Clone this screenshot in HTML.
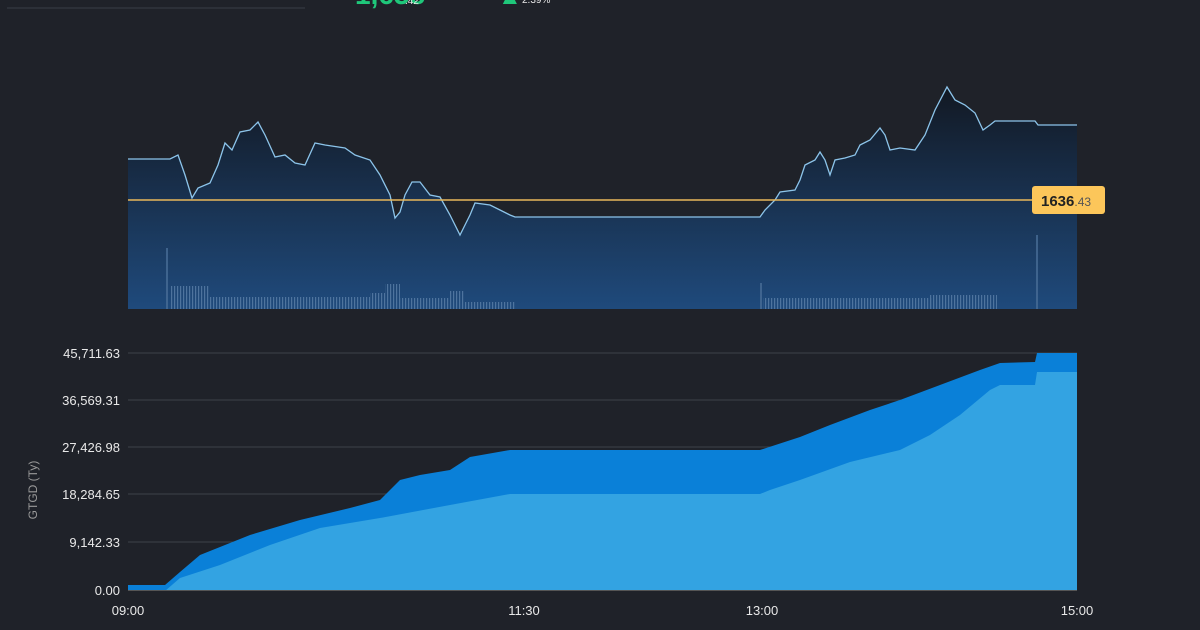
<!DOCTYPE html>
<html><head><meta charset="utf-8"><style>
html,body{margin:0;padding:0;background:#1f2229;width:1200px;height:630px;overflow:hidden}
svg{display:block}
text{font-family:"Liberation Sans",sans-serif}
</style></head><body>
<svg width="1200" height="630" viewBox="0 0 1200 630" xmlns="http://www.w3.org/2000/svg">
<defs>
<linearGradient id="g1" gradientUnits="userSpaceOnUse" x1="0" y1="85" x2="0" y2="309">
<stop offset="0" stop-color="#121822"/><stop offset="1" stop-color="#1f4a7c"/>
</linearGradient>
<pattern id="vp" width="3" height="10" patternUnits="userSpaceOnUse">
<rect x="0" y="0" width="1.2" height="10" fill="#5a7fa8"/>
</pattern>
</defs>
<line x1="7" y1="8" x2="305" y2="8" stroke="#3a3e46" stroke-width="1"/>
<text x="355" y="4" fill="#1fc77a" font-size="28" font-weight="bold">1,638</text>
<text x="405" y="4" fill="#e8e8e8" font-size="10">.42</text>
<text x="498" y="4" fill="#1fc77a" font-size="24" font-weight="bold">▲</text>
<text x="522" y="3" fill="#e8e8e8" font-size="10">2.39%</text>
<path fill="url(#g1)" d="M128,159 L170,159 178,155 185,175 192,198 198,188 210,183 218,165 225,143 232,150 240,132 250,130 258,122 265,135 275,157 285,155 295,163 305,165 315,143 325,145 345,148 355,155 370,160 380,175 390,195 395,218 400,212 405,195 412,182 420,182 430,195 440,197 450,215 460,235 465,225 470,215 475,203 490,205 500,210 510,215 515,217 760,217 765,210 775,200 780,192 795,190 800,180 805,165 815,160 820,152 825,160 830,175 835,160 845,158 855,155 860,145 870,140 880,128 885,135 890,150 900,148 915,150 925,135 935,110 947,87 955,100 965,105 975,113 983,130 990,125 995,121 1035,121 1038,125 1077,125 L1077,309 L128,309 Z"/>
<path fill="none" stroke="#8cc4ea" stroke-width="1.3" d="M128,159 L170,159 178,155 185,175 192,198 198,188 210,183 218,165 225,143 232,150 240,132 250,130 258,122 265,135 275,157 285,155 295,163 305,165 315,143 325,145 345,148 355,155 370,160 380,175 390,195 395,218 400,212 405,195 412,182 420,182 430,195 440,197 450,215 460,235 465,225 470,215 475,203 490,205 500,210 510,215 515,217 760,217 765,210 775,200 780,192 795,190 800,180 805,165 815,160 820,152 825,160 830,175 835,160 845,158 855,155 860,145 870,140 880,128 885,135 890,150 900,148 915,150 925,135 935,110 947,87 955,100 965,105 975,113 983,130 990,125 995,121 1035,121 1038,125 1077,125"/>
<g stroke="#4a6f98" stroke-width="1.5">
<line x1="167" y1="309" x2="167" y2="248"/>
<line x1="1037" y1="309" x2="1037" y2="235"/>
<line x1="761" y1="309" x2="761" y2="283"/>
</g>
<g fill="url(#vp)" opacity="0.8">
<rect x="170" y="286" width="40" height="23"/>
<rect x="210" y="297" width="160" height="12"/>
<rect x="370" y="293" width="15" height="16"/>
<rect x="385" y="284" width="15" height="25"/>
<rect x="400" y="298" width="50" height="11"/>
<rect x="450" y="291" width="15" height="18"/>
<rect x="465" y="302" width="50" height="7"/>
<rect x="763" y="298" width="170" height="11"/>
<rect x="930" y="295" width="67" height="14"/>
</g>
<line x1="128" y1="200" x2="1032" y2="200" stroke="#e8b85a" stroke-width="1.5"/>
<rect x="1032" y="186" width="73" height="28" rx="3" fill="#fcc65a"/>
<text x="1041" y="206" font-size="15" font-weight="bold" fill="#222">1636<tspan font-size="12" font-weight="normal" fill="#555">.43</tspan></text>
<g stroke="#3d4149" stroke-width="1">
<line x1="128" y1="353" x2="1077" y2="353"/><line x1="128" y1="400" x2="1077" y2="400"/>
<line x1="128" y1="447" x2="1077" y2="447"/><line x1="128" y1="494" x2="1077" y2="494"/>
<line x1="128" y1="542" x2="1077" y2="542"/>
</g>
<path fill="#0a80d8" d="M128,585 L165,585 180,572 200,555 250,535 300,520 350,508 380,500 400,480 420,475 450,470 470,457 510,450 760,450 800,437 830,425 870,410 900,400 940,385 980,370 1000,363 1035,362 1037,353 1077,353 L1077,591 128,591 Z"/>
<path fill="#33a3e2" d="M165,591 L180,578 220,565 270,545 320,528 380,518 450,505 510,494 760,494 770,490 800,480 850,462 900,450 930,435 960,415 990,390 1000,385 1035,385 1037,372 1077,372 L1077,591 Z"/>
<line x1="128" y1="590.5" x2="1077" y2="590.5" stroke="#555" stroke-width="1"/>
<g fill="#e8e8e8" font-size="13" text-anchor="end">
<text x="120" y="358">45,711.63</text><text x="120" y="405">36,569.31</text>
<text x="120" y="452">27,426.98</text><text x="120" y="499">18,284.65</text>
<text x="120" y="547">9,142.33</text><text x="120" y="595">0.00</text>
</g>
<g fill="#e8e8e8" font-size="13" text-anchor="middle">
<text x="128" y="615">09:00</text><text x="524" y="615">11:30</text>
<text x="762" y="615">13:00</text><text x="1077" y="615">15:00</text>
</g>
<text transform="translate(37,490) rotate(-90)" fill="#999" font-size="12" text-anchor="middle">GTGD (Ty)</text>
</svg>
</body></html>
